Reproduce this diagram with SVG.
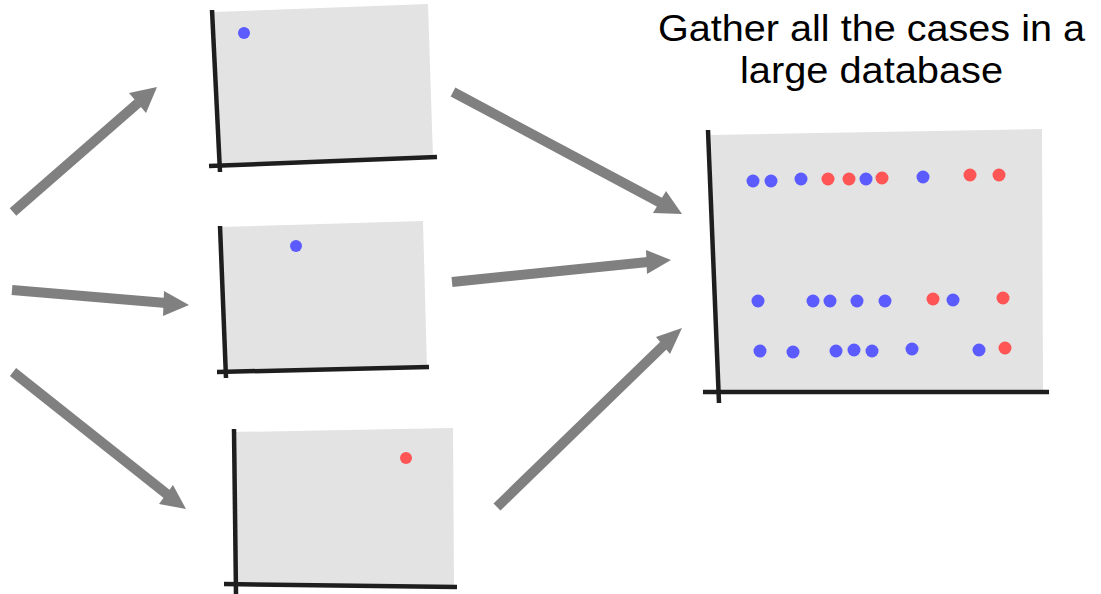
<svg xmlns="http://www.w3.org/2000/svg" width="1101" height="594" viewBox="0 0 1101 594">
  <style>
    .sheet { fill: #e3e3e3; }
    .axis { stroke: #1e1e1e; stroke-width: 4.5; stroke-linecap: butt; fill: none; }
    .pt-blue { fill: #5b5bff; }
    .pt-red { fill: #ff5555; }
    .shaft { stroke: #808080; stroke-width: 10; fill: none; }
    .head { fill: #808080; }
    .caption { font-family: "Liberation Sans", Arial, sans-serif; font-size: 36px; fill: #000; text-anchor: middle; }
  </style>

  <!-- small plot, top -->
  <g id="plot-top">
    <polygon class="sheet" points="213,12 428,4 433,158 217,166"/>
    <line class="axis" x1="212" y1="10" x2="220" y2="172"/>
    <line class="axis" x1="209" y1="166" x2="437" y2="157"/>
    <circle class="pt-blue" cx="244" cy="33" r="6"/>
  </g>

  <!-- small plot, middle -->
  <g id="plot-middle">
    <polygon class="sheet" points="220,227 423,221 427,368 224,372"/>
    <line class="axis" x1="220" y1="226" x2="226" y2="378"/>
    <line class="axis" x1="217" y1="372" x2="429" y2="367"/>
    <circle class="pt-blue" cx="296" cy="246" r="6"/>
  </g>

  <!-- small plot, bottom -->
  <g id="plot-bottom">
    <polygon class="sheet" points="234,432 453,428 454,585 236,585"/>
    <line class="axis" x1="234" y1="429" x2="236" y2="594"/>
    <line class="axis" x1="224" y1="584" x2="457" y2="587"/>
    <circle class="pt-red" cx="406" cy="458" r="6"/>
  </g>

  <!-- combined database plot -->
  <g id="plot-database">
    <polygon class="sheet" points="711,135 1042,129 1043,390 717,392"/>
    <line class="axis" x1="708" y1="130" x2="719" y2="403"/>
    <line class="axis" x1="703" y1="392" x2="1049" y2="392"/>
    <g>
      <circle class="pt-blue" cx="753" cy="181" r="6.5"/>
      <circle class="pt-blue" cx="771" cy="181" r="6.5"/>
      <circle class="pt-blue" cx="801" cy="179" r="6.5"/>
      <circle class="pt-red" cx="828" cy="179" r="6.5"/>
      <circle class="pt-red" cx="849" cy="179" r="6.5"/>
      <circle class="pt-blue" cx="866" cy="179" r="6.5"/>
      <circle class="pt-red" cx="882" cy="178" r="6.5"/>
      <circle class="pt-blue" cx="923" cy="177" r="6.5"/>
      <circle class="pt-red" cx="970" cy="175" r="6.5"/>
      <circle class="pt-red" cx="999" cy="175" r="6.5"/>
    </g>
    <g>
      <circle class="pt-blue" cx="758" cy="301" r="6.5"/>
      <circle class="pt-blue" cx="813" cy="301" r="6.5"/>
      <circle class="pt-blue" cx="830" cy="301" r="6.5"/>
      <circle class="pt-blue" cx="857" cy="301" r="6.5"/>
      <circle class="pt-blue" cx="885" cy="301" r="6.5"/>
      <circle class="pt-red" cx="933" cy="299" r="6.5"/>
      <circle class="pt-blue" cx="953" cy="300" r="6.5"/>
      <circle class="pt-red" cx="1003" cy="298" r="6.5"/>
    </g>
    <g>
      <circle class="pt-blue" cx="760" cy="351" r="6.5"/>
      <circle class="pt-blue" cx="793" cy="352" r="6.5"/>
      <circle class="pt-blue" cx="836" cy="351" r="6.5"/>
      <circle class="pt-blue" cx="854" cy="350" r="6.5"/>
      <circle class="pt-blue" cx="872" cy="351" r="6.5"/>
      <circle class="pt-blue" cx="912" cy="349" r="6.5"/>
      <circle class="pt-blue" cx="979" cy="350" r="6.5"/>
      <circle class="pt-red" cx="1005" cy="348" r="6.5"/>
    </g>
  </g>

  <!-- caption -->
  <g id="caption">
    <text class="caption" x="871.5" y="41" textLength="427" lengthAdjust="spacingAndGlyphs">Gather all the cases in a</text>
    <text class="caption" x="871.5" y="83" textLength="263" lengthAdjust="spacingAndGlyphs">large database</text>
  </g>

  <!-- arrows: shafts end at the arrowhead base, heads drawn as triangles -->
  <g id="connectors">
    <line class="shaft" x1="13" y1="212" x2="138" y2="103"/>
    <polygon class="head" points="157,87 129,93 146,113"/>

    <line class="shaft" x1="12" y1="290" x2="166" y2="303"/>
    <polygon class="head" points="189,305 164,291 163,316"/>

    <line class="shaft" x1="13" y1="372" x2="168" y2="495"/>
    <polygon class="head" points="186,509 173,485 159,504"/>

    <line class="shaft" x1="453" y1="92" x2="661" y2="203"/>
    <polygon class="head" points="682,214 666,191 653,213"/>

    <line class="shaft" x1="452" y1="282" x2="648" y2="262"/>
    <polygon class="head" points="671,260 646,250 647,274"/>

    <line class="shaft" x1="497" y1="507" x2="664" y2="345"/>
    <polygon class="head" points="682,328 656,337 670,354"/>
  </g>
</svg>
